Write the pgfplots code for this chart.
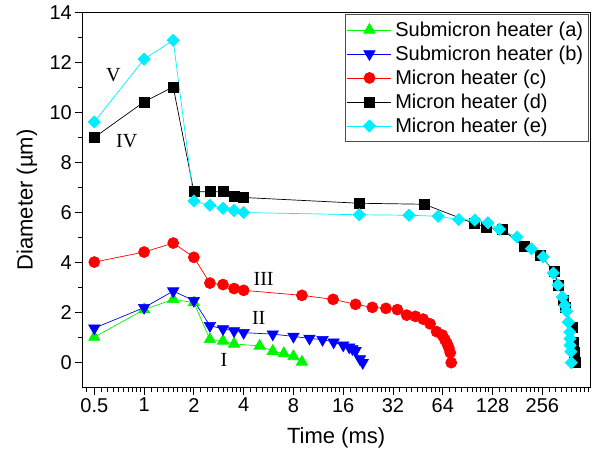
\documentclass[border=0pt]{standalone}
\usepackage{pgfplots}
\pgfplotsset{compat=1.18}
\usepackage{fontspec}
\setmainfont{Liberation Sans}
\newfontfamily\romanfont{Liberation Serif}
\definecolor{cA}{RGB}{0,245,0}
\definecolor{cB}{RGB}{0,0,255}
\definecolor{cC}{RGB}{255,0,0}
\definecolor{cD}{RGB}{0,0,0}
\definecolor{cE}{RGB}{0,238,255}

\begin{document}
\begin{tikzpicture}
\begin{axis}[
  scale only axis, width=507.7bp, height=375.4bp,
  xmode=log,
  xmin=0.423, xmax=497, ymin=-1, ymax=14,
  xtick={0.5,1,2,4,8,16,32,64,128,256},
  xticklabels={0.5,1,2,4,8,16,32,64,128,256},
  minor xtick={0.45,0.55,0.6,0.65,0.7,0.75,0.8,0.85,0.9,0.95,
    1.1,1.2,1.3,1.4,1.5,1.6,1.7,1.8,1.9,
    2.2,2.4,2.6,2.8,3,3.2,3.4,3.6,3.8,
    4.4,4.8,5.2,5.6,6,6.4,6.8,7.2,7.6,
    8.8,9.6,10.4,11.2,12,12.8,13.6,14.4,15.2,
    17.6,19.2,20.8,22.4,24,25.6,27.2,28.8,30.4,
    35.2,38.4,41.6,44.8,48,51.2,54.4,57.6,60.8,
    70.4,76.8,83.2,89.6,96,102.4,108.8,115.2,121.6,
    140.8,153.6,166.4,179.2,192,204.8,217.6,230.4,243.2,
    281.6,307.2,332.8,358.4,384,409.6,435.2,460.8,486.4},
  ytick={0,2,4,6,8,10,12,14},
  minor ytick={1,3,5,7,9,11,13},
  tick pos=left, tick align=outside,
  major tick length=7bp, minor tick length=4bp,
  every tick/.style={black, line width=0.8bp},
  axis line style={line width=0.8bp},
  font=\fontsize{20bp}{24bp}\selectfont,
  ticklabel style={font=\fontsize{20bp}{24bp}\selectfont},
  /pgf/number format/assume math mode=true,
  xlabel={Time (ms)}, ylabel={Diameter (µm)},
  every axis x label/.style={at={(axis description cs:0.5,-0.134)}, anchor=center, font=\fontsize{22bp}{26bp}\selectfont},
  every axis y label/.style={at={(axis description cs:-0.109,0.5)}, anchor=center, rotate=90, font=\fontsize{22bp}{26bp}\selectfont},
  legend cell align=left,
  legend style={at={(axis description cs:0.998,0.995)}, anchor=north east,
    draw=black!70, line width=0.6bp, font=\fontsize{20bp}{24bp}\selectfont,
    inner xsep=2bp, inner ysep=3.5bp, row sep=0pt,
    nodes={inner xsep=3.5bp, inner ysep=4bp}},
  legend image code/.code={\draw[mark repeat=2, mark phase=2] plot coordinates {(0bp,0bp) (22bp,0bp) (44bp,0bp)};},
]
\coordinate (SW) at (rel axis cs:0,0);

\addplot[color=cA, line width=0.7bp, mark=triangle*, mark size=6.5bp, mark options={fill=cA, draw=cA}] coordinates {
(0.5,1.02) (1,2.12) (1.5,2.53) (2,2.4) (2.5,0.93) (3,0.87) (3.5,0.75) (5,0.67) (6,0.46) (7,0.37) (8,0.25) (9,0.03)};
\addlegendentry{Submicron heater (a)}

\addplot[color=cB, line width=0.7bp, mark=triangle*, mark size=6.5bp, mark options={fill=cB, draw=cB, rotate=180}] coordinates {
(0.5,1.38) (1,2.2) (1.5,2.86) (2,2.48) (2.5,1.48) (3,1.35) (3.5,1.27) (4,1.2) (6,1.14) (8,1.05) (10,0.97) (12,0.92) (14,0.82) (16,0.7) (17.4,0.62) (18.2,0.55) (19,0.48) (20.2,0.15) (21,0.0)};
\addlegendentry{Submicron heater (b)}

\addplot[color=cC, line width=0.7bp, mark=*, mark size=5.5bp, mark options={fill=cC, draw=cC}] coordinates {
(0.5,4.02) (1,4.42) (1.5,4.78) (2,4.21) (2.5,3.18) (3,3.12) (3.5,2.96) (4,2.89) (9,2.69) (13.9,2.53) (19,2.33) (24,2.21) (29,2.17) (34,2.12) (38.7,1.9) (43.7,1.85) (48.7,1.74) (53.6,1.55) (58.7,1.24) (63.6,1.1) (65.9,0.92) (67.9,0.77) (69.6,0.6) (71,0.4) (72,0.0)};
\addlegendentry{Micron heater (c)}

\addplot[color=cD, line width=0.7bp, mark=square*, mark size=5bp, mark options={fill=cD, draw=cD}] coordinates {
(0.5,9.0) (1,10.42) (1.5,11.02) (2,6.83) (2.5,6.83) (3,6.83) (3.5,6.65) (4,6.6) (20,6.37) (49.5,6.33) (99,5.56) (118,5.42) (147,5.32) (199,4.63) (250,4.3) (301,3.63) (321,3.1) (345,2.49) (355,2.23) (389,1.42) (396,0.8) (402,0.42) (403,0)};
\addlegendentry{Micron heater (d)}

\addplot[color=cE, line width=0.7bp, mark=square*, mark size=4.3bp, mark options={fill=cE, draw=cE, rotate=45}] coordinates {
(0.5,9.62) (1,12.13) (1.5,12.88) (2,6.46) (2.5,6.29) (3,6.17) (3.5,6.08) (4,6.0) (20,5.91) (40,5.89) (60,5.85) (80,5.72) (100,5.7) (120,5.59) (141,5.33) (180,5.02) (220,4.55) (259,4.23) (298,3.58) (318,3.1) (338,2.62) (350,2.29) (359,2.06) (368,1.62) (375,1.22) (376,0.96) (377,0.69) (381,0.44) (383,0)};
\addlegendentry{Micron heater (e)}

\node[font=\romanfont\fontsize{20bp}{24bp}\selectfont] at (axis cs:0.652,11.49) {V};
\node[font=\romanfont\fontsize{20bp}{24bp}\selectfont] at (axis cs:0.785,8.86) {IV};
\node[font=\romanfont\fontsize{20bp}{24bp}\selectfont] at (axis cs:5.28,3.36) {III};
\node[font=\romanfont\fontsize{20bp}{24bp}\selectfont] at (axis cs:4.93,1.8) {II};
\node[font=\romanfont\fontsize{20bp}{24bp}\selectfont] at (axis cs:3.04,0.09) {I};
\end{axis}
\pgfresetboundingbox
\path (SW) ++(-82.3bp,-67.3bp) rectangle ++(595bp,455bp);
\end{tikzpicture}
\end{document}
